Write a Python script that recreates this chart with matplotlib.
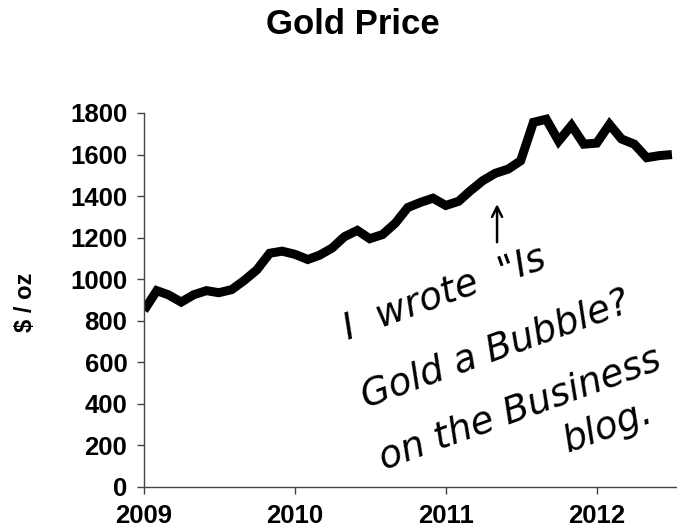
import matplotlib
matplotlib.use("Agg")
import matplotlib.pyplot as plt
import matplotlib.dates as mdates
import pandas as pd

# Monthly gold price, $/oz, Jan 2009 - Jul 2012
prices = [850, 945, 925, 890, 925, 945, 935, 950, 995, 1045, 1125, 1135,
          1120, 1095, 1115, 1150, 1205, 1235, 1195, 1215, 1270, 1345, 1370, 1390,
          1355, 1375, 1425, 1475, 1510, 1530, 1570, 1755, 1770, 1665, 1740, 1650,
          1655, 1745, 1675, 1650, 1585, 1595, 1600]
start_month = "2009-01-01"
dates = pd.date_range(start_month, periods=len(prices), freq="MS")

title = "Gold Price"
ylabel = "$ / oz"
yticks = [0, 200, 400, 600, 800, 1000, 1200, 1400, 1600, 1800]
note_lines = ['I  wrote  "Is', 'Gold a Bubble?', 'on the Business', 'blog.']
arrow_date = "2011-05-05"
arrow_from, arrow_to = 1165, 1375

W, H = 677, 532
fig = plt.figure(figsize=(W / 100, H / 100), dpi=100)
fig.patch.set_facecolor("white")

left = 144 / W
bottom = (H - 487) / H
top = (H - 113) / H
ax = fig.add_axes([left, bottom, 1.0 - left, top - bottom])

ax.plot(dates, prices, color="black", lw=6.5, solid_joinstyle="miter",
        solid_capstyle="butt", clip_on=True)

ax.set_ylim(0, 1800)
ax.set_yticks(yticks)
x0 = pd.Timestamp("2009-01-01")
ax.set_xlim(x0, x0 + pd.Timedelta(days=365.25 * (W - 144) / 151))
ax.xaxis.set_major_locator(mdates.YearLocator())
ax.xaxis.set_major_formatter(mdates.DateFormatter("%Y"))

for s in ["top", "right"]:
    ax.spines[s].set_visible(False)
for s in ["left", "bottom"]:
    ax.spines[s].set_color("#444444")
    ax.spines[s].set_linewidth(1.0)

ax.tick_params(axis="both", direction="out", length=5, width=1, color="#444444",
               labelsize=18.5, pad=7)
for lab in ax.get_xticklabels() + ax.get_yticklabels():
    lab.set_fontweight("bold")
    lab.set_fontfamily("Liberation Sans")

fig.text(353 / W, 1 - 25 / H, title, ha="center", va="center",
         fontsize=25, fontweight="bold", family="Liberation Sans")
fig.text(25 / W, 1 - 302 / H, ylabel, ha="center", va="center", rotation=90,
         fontsize=17, fontweight="bold", family="Liberation Sans")

# Hand-written note
ad = pd.Timestamp(arrow_date)
ax.annotate("", xy=(ad, arrow_to), xytext=(ad, arrow_from),
            arrowprops=dict(arrowstyle="->", color="black", lw=1.8,
                            mutation_scale=18))
positions = [(348, 340), (366, 408), (384, 470), (568, 452)]
for txt, (px, py) in zip(note_lines, positions):
    fig.text(px / W, 1 - py / H, txt, ha="left", va="baseline", rotation=20,
             rotation_mode="anchor", fontsize=27, family="DejaVu Sans",
             style="italic", color="black")

fig.savefig("out.png", dpi=100, facecolor="white")
